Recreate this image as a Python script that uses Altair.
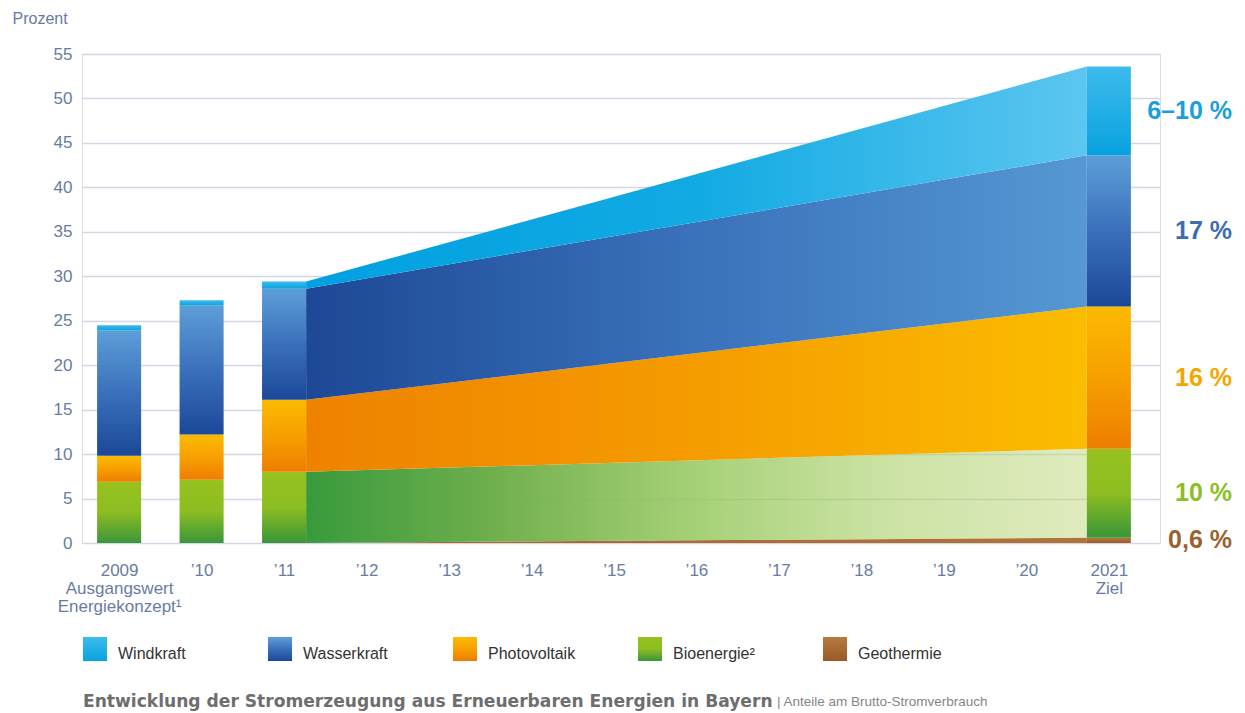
import altair as alt
import pandas as pd

# ---------------- data ----------------
years = [2009, 2010, 2011, 2021]
# stacking order bottom -> top
stack_order = ["Geothermie", "Bioenergie²", "Photovoltaik", "Wasserkraft", "Windkraft"]
geothermie = [0.0, 0.0, 0.0, 0.6]
bioenergie = [6.9, 7.1, 8.0, 10.0]
photovoltaik = [2.9, 5.1, 8.1, 16.0]
wasserkraft = [14.1, 14.5, 12.5, 17.0]
windkraft = [0.6, 0.6, 0.8, 10.0]

tick_years = [2009, 2010, 2011, 2012, 2013, 2014, 2015, 2016, 2017, 2018, 2019, 2020, 2021]
tick_labels = ["2009", "’10", "’11", "’12", "’13", "’14", "’15", "’16", "’17", "’18", "’19", "’20", "2021"]
sub_labels = {2009: ["Ausgangswert", "Energiekonzept¹"], 2021: ["Ziel"]}
y_ticks = [0, 5, 10, 15, 20, 25, 30, 35, 40, 45, 50, 55]

legend_names = ["Windkraft", "Wasserkraft", "Photovoltaik", "Bioenergie²", "Geothermie"]
target_labels = {"Windkraft": "6–10 %", "Wasserkraft": "17 %", "Photovoltaik": "16 %",
                 "Bioenergie²": "10 %", "Geothermie": "0,6 %"}

title_bold = "Entwicklung der Stromerzeugung aus Erneuerbaren Energien in Bayern"
title_rest = "| Anteile am Brutto-Stromverbrauch"

values = {"Geothermie": geothermie, "Bioenergie²": bioenergie, "Photovoltaik": photovoltaik,
          "Wasserkraft": wasserkraft, "Windkraft": windkraft}

# ---------------- styles ----------------
SLATE = "#687ca3"
FONT = "Liberation Sans"
HALF = 0.267  # half bar width in years

bar_grad = {
    "Windkraft": ["#3dbbed", "#08a2df"],
    "Wasserkraft": ["#5d9ed8", "#3a70bb", "#1b4898"],
    "Photovoltaik": ["#fcba00", "#f6a000", "#ee7d00"],
    "Bioenergie²": ["#97c21f", "#8cbd22", "#3a9639"],
    "Geothermie": ["#b77a3e", "#9a5a28"],
}
area_grad = {
    "Windkraft": ["#00a0e1", "#12aae3", "#5cc6f0"],
    "Wasserkraft": ["#1d4896", "#3a72bb", "#5598d3"],
    "Photovoltaik": ["#ee8200", "#f59c00", "#fbbd00"],
    "Bioenergie²": ["#389a3c", "#72b04e", "rgba(150,200,95,0.85)", "rgba(170,208,105,0.6)",
                    "rgba(192,215,125,0.5)"],
    "Geothermie": ["#a7662f", "#b0733a"],
}
label_color = {"Windkraft": "#1b9fd9", "Wasserkraft": "#3c6cb2", "Photovoltaik": "#f3a600",
               "Bioenergie²": "#8dbe24", "Geothermie": "#9c5f2e"}


def grad(colors, vertical):
    n = len(colors)
    stops = [alt.GradientStop(offset=i / (n - 1), color=c) for i, c in enumerate(colors)]
    if vertical:
        return alt.Gradient(gradient="linear", stops=stops, x1=0, x2=0, y1=0, y2=1)
    return alt.Gradient(gradient="linear", stops=stops, x1=0, x2=1, y1=0, y2=0)


# ---------------- table ----------------
rows = []
for i, yr in enumerate(years):
    cum = 0.0
    for s in stack_order:
        v = values[s][i]
        rows.append({"year": yr, "series": s, "y0": cum, "y1": cum + v})
        cum += v
df = pd.DataFrame(rows)

# label expression for the x axis
parts = []
for yr, lab in zip(tick_years, tick_labels):
    lines = [lab] + sub_labels.get(yr, [])
    if len(lines) > 1:
        txt = "[" + ",".join("'" + l + "'" for l in lines) + "]"
    else:
        txt = "'" + lab + "'"
    parts.append(f"datum.value == {yr} ? {txt} : ")
label_expr = "".join(parts) + "''"

X_SCALE = alt.Scale(domain=[2008.55, 2021.62], nice=False, zero=False)
Y_SCALE = alt.Scale(domain=[0, 55], nice=False)
X_AXIS = alt.Axis(values=tick_years, labelExpr=label_expr, grid=False, ticks=False, domain=False,
                  labelFont=FONT, labelFontSize=17, labelColor=SLATE, labelPadding=19,
                  labelLineHeight=18, labelAlign="center", labelBaseline="top", title=None)
Y_AXIS = alt.Axis(values=y_ticks, grid=True, gridColor="#d2d6e5", gridWidth=1.5, ticks=False,
                  domain=False, labelFont=FONT, labelFontSize=17, labelColor=SLATE, labelPadding=10,
                  title="Prozent", titleFont=FONT, titleFontSize=16, titleFontWeight="normal",
                  titleColor=SLATE, titleAngle=0, titleAlign="left", titleBaseline="middle",
                  titleX=-70, titleY=-36)

layers = []
for s in stack_order:
    sub = df[df["series"] == s]
    # connecting area between the 2011 bar and the 2021 target bar
    area = (
        alt.Chart(sub)
        .transform_filter("datum.year == 2011 || datum.year == 2021")
        .transform_calculate(xe=f"datum.year == 2011 ? datum.year + {HALF} : datum.year - {HALF}")
        .mark_area(color=grad(area_grad[s], vertical=False), interpolate="linear")
        .encode(
            x=alt.X("xe:Q", scale=X_SCALE, axis=X_AXIS),
            y=alt.Y("y1:Q", scale=Y_SCALE, axis=Y_AXIS),
            y2="y0:Q",
        )
    )
    bars = (
        alt.Chart(sub)
        .transform_filter("datum.y1 > datum.y0")
        .transform_calculate(xa=f"datum.year - {HALF}", xb=f"datum.year + {HALF}")
        .mark_rect(color=grad(bar_grad[s], vertical=True))
        .encode(
            x=alt.X("xa:Q", scale=X_SCALE, axis=X_AXIS),
            x2="xb:Q",
            y=alt.Y("y1:Q", scale=Y_SCALE, axis=Y_AXIS),
            y2="y0:Q",
        )
    )
    layers += [area, bars]

# target labels on the right (centred on each 2021 segment)
lab_df = df[df["year"] == 2021].copy()
lab_df["ymid"] = (lab_df["y0"] + lab_df["y1"]) / 2
lab_df["label"] = lab_df["series"].map(target_labels)
lab_df["color"] = lab_df["series"].map(label_color)
labels = (
    alt.Chart(lab_df)
    .mark_text(align="right", baseline="middle", font=FONT, fontSize=25, fontWeight="bold")
    .encode(
        x=alt.value(1150),
        y=alt.Y("ymid:Q", scale=Y_SCALE, axis=Y_AXIS),
        text="label:N",
        color=alt.Color("color:N", scale=None),
    )
)
layers.append(labels)

# legend (custom, with gradient swatches)
leg_df = pd.DataFrame({"name": legend_names, "idx": list(range(len(legend_names)))})
for s in legend_names:
    sw = (
        alt.Chart(leg_df)
        .transform_filter(alt.datum.name == s)
        .transform_calculate(lx="1 + datum.idx * 185", lx2="25 + datum.idx * 185")
        .mark_rect(color=grad(bar_grad[s], vertical=True))
        .encode(
            x=alt.X("lx:Q", scale=None, axis=None),
            x2="lx2:Q",
            y=alt.value(583),
            y2=alt.value(607),
        )
    )
    layers.append(sw)
leg_text = (
    alt.Chart(leg_df)
    .transform_calculate(tx="36 + datum.idx * 185")
    .mark_text(align="left", baseline="middle", font=FONT, fontSize=16, color="#333333")
    .encode(x=alt.X("tx:Q", scale=None, axis=None), y=alt.value(600), text="name:N")
)
layers.append(leg_text)

# bottom caption
cap_df = pd.DataFrame({"bold": [title_bold], "rest": [title_rest]})
cap1 = (
    alt.Chart(cap_df)
    .mark_text(align="left", baseline="middle", font="DejaVu Sans", fontSize=17.1, fontWeight="bold",
               color="#6e6e6e")
    .encode(x=alt.value(1), y=alt.value(648), text="bold:N")
)
cap2 = (
    alt.Chart(cap_df)
    .mark_text(align="left", baseline="middle", font=FONT, fontSize=13.5, color="#858585")
    .encode(x=alt.value(695), y=alt.value(648), text="rest:N")
)
layers += [cap1, cap2]

chart = (
    alt.layer(*layers)
    .properties(
        width=1078,
        height=489,
        autosize=alt.AutoSizeParams(type="none"),
        padding={"left": 74, "top": 46, "right": 77, "bottom": 170},
    )
    .configure_view(stroke=None)
    .configure(background="white")
)

chart.save("out.html", embed_options={"renderer": "svg", "actions": False})
